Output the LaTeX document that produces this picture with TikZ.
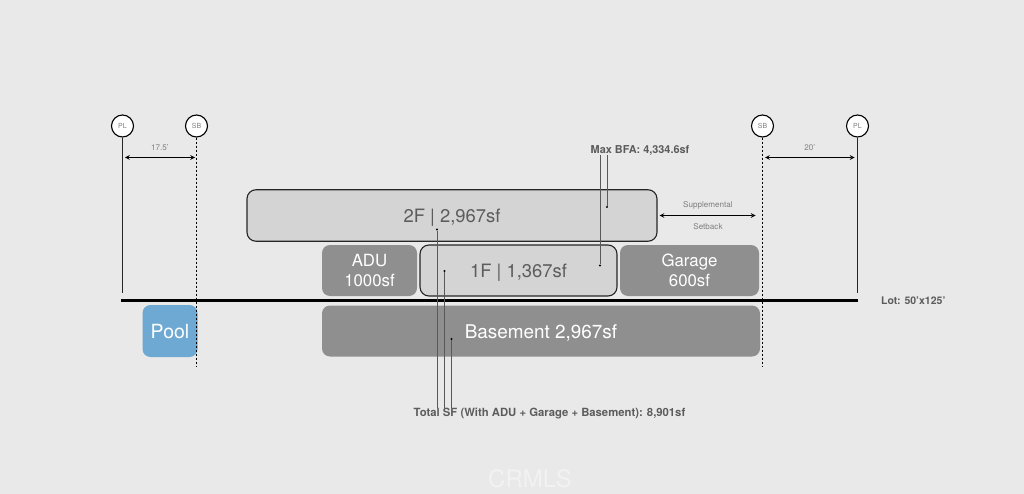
\documentclass[tikz,border=0pt]{standalone}
\usepackage{fontspec}
\setmainfont{TeX Gyre Heros}
\usepackage{tikz}
\usetikzlibrary{positioning}
\definecolor{pagegray}{HTML}{E9E9E9}
\definecolor{upperfill}{HTML}{D4D4D4}
\definecolor{lowerfill}{HTML}{8F8F8F}
\definecolor{poolfill}{HTML}{6EA9D3}
\definecolor{inkgray}{HTML}{5C5C5C}
\definecolor{notegray}{HTML}{808080}
\newcommand{\fs}[1]{\fontsize{#1}{20}\selectfont}

\begin{document}
\begin{tikzpicture}[x=1pt,y=-1pt,>=stealth,
    marker/.style={circle,draw=black,line width=1.1pt,fill=white,inner sep=0pt,minimum size=22pt,text=notegray,font=\fs{7}},
    light box/.style={rectangle,rounded corners=9pt,draw=black!85,line width=1.1pt,fill=upperfill,text=inkgray,font=\fs{18.4},inner sep=0pt,text height=14pt,text depth=0pt},
    dark box/.style={rectangle,rounded corners=8pt,fill=lowerfill,text=white,font=\fs{16.8},inner sep=0pt,align=center},
    wide box/.style={dark box,text height=14pt,text depth=0pt},
    note/.style={text=inkgray,font=\bfseries\fs{10.9},inner sep=0pt},
    small note/.style={text=notegray,font=\fs{8.1},inner sep=0pt},
    dot/.style={circle,fill=black,inner sep=0pt,minimum size=2.4pt},
    property line/.style={line width=1.1pt,black!85},
    setback line/.style={line width=1.2pt,black,dash pattern=on 2pt off 2pt},
    span/.style={<->,line width=1.1pt,black},
    leader/.style={line width=.8pt,black!65}]

    \useasboundingbox[fill=pagegray] (0,0) rectangle (1024,494);

    % Nodes
    \node[light box,minimum width=410pt,minimum height=51.5pt] (second) at (452,215.5) {2F | 2,967sf};
    \node[dark box,minimum width=95pt,minimum height=51pt] (adu) at (369.5,270.5) {ADU\\1000sf};
    \node[light box,minimum width=197pt,minimum height=51pt] (first) at (518.5,270.5) {1F | 1,367sf};
    \node[dark box,minimum width=139pt,minimum height=51pt] (garage) at (689.5,270.5) {Garage\\600sf};
    \node[wide box,minimum width=438pt,minimum height=51pt,font=\fs{18.9}] (basement) at (541,331) {Basement 2,967sf};
    \node[wide box,minimum width=55pt,minimum height=52pt,fill=poolfill,font=\fs{19.5}] (pool) at (170,331) {Pool};

    \node[marker] (plL) at (122.5,126) {PL};
    \node[marker] (sbL) [right of=plL,node distance=74pt] {SB};
    \node[marker] (sbR) at (762.5,126) {SB};
    \node[marker] (plR) [right of=sbR,node distance=95pt] {PL};

    \node[note] (bfa) at (640,150) {Max BFA: 4,334.6sf};
    \node[note,font=\bfseries\fs{11.3}] (total) at (549.5,414) {Total SF (With ADU + Garage + Basement): 8,901sf};
    \node[note,font=\bfseries\fs{10.5},anchor=west] (lot) at (881,300.5) {Lot: 50'x125'};
    \node[small note] (supp) at (708,205.5) {Supplemental};
    \node[small note] (back) at (708,226.5) {Setback};
    \node[text=white!95!black,font=\fs{24}] (crmls) at (530,479) {CRMLS};

    \node[dot] (dotBfaTwo) at (607,207) {};
    \node[dot] (dotBfaOne) at (600,265.5) {};
    \node[dot] (dotTotTwo) at (437,229.5) {};
    \node[dot] (dotTotOne) at (444.5,271) {};
    \node[dot] (dotTotBase) at (451.5,339) {};

    \coordinate (lotA) at (121,300.5);
    \coordinate (lotB) at (857.5,300.5);
    \coordinate (plLend) at (122.5,293);
    \coordinate (plRend) at (857.5,293);
    \coordinate (sbLend) at (196.5,367);
    \coordinate (sbRend) at (762.5,367);
    \coordinate (spanLa) at (125,157.5);
    \coordinate (spanLb) at (195,157.5);
    \coordinate (spanRa) at (765,157.5);
    \coordinate (spanRb) at (854.5,157.5);
    \coordinate (suppEnd) at (755.5,215.5);

    % Paths
    \path[property line]
      (plL) edge (plLend)
      (plR) edge (plRend);
    \path[setback line]
      (sbL) edge (sbLend)
      (sbR) edge (sbRend);
    \draw[line width=3pt,black] (lotA) -- (lotB);

    \path[span,every node/.style={small note,above=6pt}]
      (spanLa) edge node {17.5'} (spanLb)
      (spanRa) edge node {20'} (spanRb);
    \draw[span] ([xshift=2pt]second.east) -- (suppEnd);

    \path[leader]
      (dotBfaTwo |- bfa.south) edge (dotBfaTwo)
      (dotBfaOne |- bfa.south) edge (dotBfaOne)
      (dotTotTwo |- total.north) edge (dotTotTwo)
      (dotTotOne |- total.north) edge (dotTotOne)
      (dotTotBase |- total.north) edge (dotTotBase);

  \end{tikzpicture}
\end{document}
